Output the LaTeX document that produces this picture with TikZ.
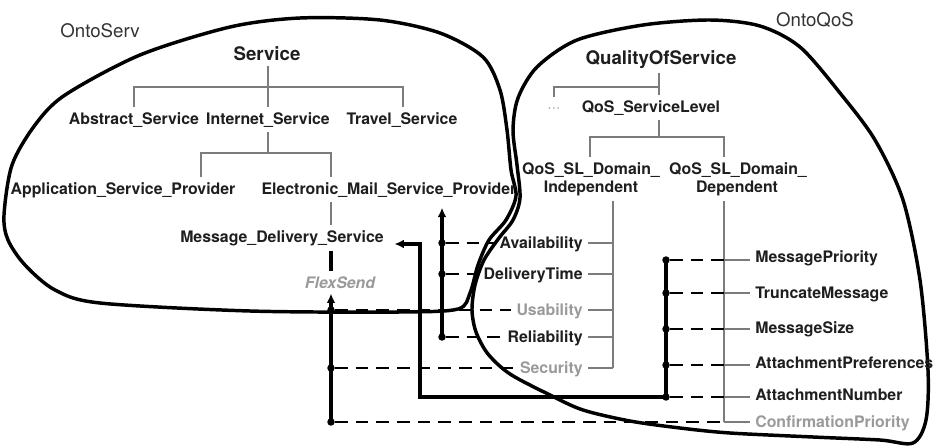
\documentclass[tikz,border=0pt]{standalone}
\usepackage{fontspec}
\setmainfont{TeX Gyre Heros}
\usetikzlibrary{arrows.meta}
\definecolor{ink}{HTML}{1E1E1E}
\definecolor{faded}{HTML}{9A9A9A}
\definecolor{branch}{HTML}{7C7C7C}
\definecolor{ontotext}{HTML}{333333}
\begin{document}
\begin{tikzpicture}[x=0.75pt,y=-0.75pt,
  lbl/.style={font=\fontsize{11.9}{14}\selectfont\bfseries, text=ink, inner sep=1pt, outer sep=3pt},
  glbl/.style={lbl, text=faded},
  ttl/.style={lbl, font=\fontsize{14}{16}\selectfont\bfseries},
  onto/.style={font=\fontsize{14}{16}\selectfont, text=ontotext, inner sep=1pt},
  tree/.style={draw=branch, line width=0.95pt},
  blob/.style={draw=black, line width=2.6pt, line join=round},
  link/.style={draw=black, line width=2.4pt},
  dlink/.style={draw=black, line width=1.8pt, dash pattern=on 9.5pt off 6pt, dash phase=-3pt},
  tip/.style={-{Latex[length=7pt,width=6.5pt]}},
]
\useasboundingbox (0,0) rectangle (935,447);

% ontology outlines
\draw[blob] plot[smooth cycle, tension=0.5] coordinates {
  (4,215) (12,165) (35,125) (65,95) (140,55) (230,27) (300,18) (380,20)
  (440,33) (483,57) (500,90) (507,130) (511,170) (516,196) (506,220)
  (489,240) (478,265) (470,293) (458,309) (400,312) (250,311) (100,303)
  (55,290) (25,265) (8,240)};
\draw[blob] plot[smooth cycle, tension=0.5] coordinates {
  (537,67) (577,40) (643,25) (710,20) (760,26) (800,47) (840,93) (875,140)
  (903,200) (920,280) (928,370) (926,420) (913,443) (880,440) (813,437)
  (730,433) (680,428) (630,421) (583,410) (550,395) (510,374) (488,354)
  (476,332) (472,310) (475,285) (484,260) (499,238) (513,220) (520,198)
  (517,165) (513,130) (518,98)};

% ontology names
\node[onto, anchor=base] (ontoserv) at (100,37) {OntoServ};
\node[onto, anchor=base] (ontoqos) at (815,26) {OntoQoS};

% service taxonomy
\node[ttl, anchor=base] (service) at (267,60) {Service};
\node[lbl, anchor=base] (abstract) at (134,124) {Abstract\_Service};
\node[lbl, anchor=base] (internet) at (268,124) {Internet\_Service};
\node[lbl, anchor=base] (travel) at (402,124) {Travel\_Service};
\node[lbl, anchor=base] (asp) at (123,194) {Application\_Service\_Provider};
\node[lbl, anchor=base] (emsp) at (389,194) {Electronic\_Mail\_Service\_Provider};
\node[lbl, anchor=base] (mds) at (282,242) {Message\_Delivery\_Service};
\node[glbl, anchor=base, font=\fontsize{11.9}{14}\selectfont\bfseries\itshape] (flex) at (340,288) {FlexSend};

% QoS taxonomy
\node[ttl, anchor=base] (qos) at (661,64) {QualityOfService};
\node[glbl, anchor=base, font=\fontsize{11.9}{14}\selectfont] (etc) at (554,112) {···};
\node[lbl, anchor=base] (qsl) at (651,112) {QoS\_ServiceLevel};
\node[lbl, anchor=base] (ind1) at (591,174) {QoS\_SL\_Domain\_};
\node[lbl, anchor=base] (ind2) at (591,192) {Independent};
\node[lbl, anchor=base] (dep1) at (738,174) {QoS\_SL\_Domain\_};
\node[lbl, anchor=base] (dep2) at (737,192) {Dependent};

% domain-independent parameters
\node[lbl, anchor=base east] (avail) at (588,248) {Availability};
\node[lbl, anchor=base east] (dtime) at (588,279) {DeliveryTime};
\node[glbl, anchor=base east] (usab) at (588,315) {Usability};
\node[lbl, anchor=base east] (reli) at (588,342) {Reliability};
\node[glbl, anchor=base east] (secu) at (588,373) {Security};

% domain-dependent parameters
\node[lbl, anchor=base west] (mprio) at (750,262) {MessagePriority};
\node[lbl, anchor=base west] (trunc) at (750,298) {TruncateMessage};
\node[lbl, anchor=base west] (msize) at (750,333) {MessageSize};
\node[lbl, anchor=base west] (apref) at (750,368) {AttachmentPreferences};
\node[lbl, anchor=base west] (anum) at (750,400) {AttachmentNumber};
\node[glbl, anchor=base west] (conf) at (750,427) {ConfirmationPriority};

% junction points
\coordinate (fU) at (331,310);
\coordinate (fS) at (331,368);
\coordinate (fC) at (331,422);
\coordinate (eA) at (442,243);
\coordinate (eD) at (442,274);
\coordinate (eR) at (442,337);
\coordinate (m1) at (666,260);
\coordinate (m2) at (666,293);
\coordinate (m3) at (666,329);
\coordinate (m4) at (666,365);
\coordinate (m5) at (666,397);
\coordinate (k1) at (420,397);
\coordinate (k2) at (420,244);
\coordinate (ibot) at (613,368);
\coordinate (dbot) at (724,422);
\coordinate (sbl) at (134,87);
\coordinate (sbr) at (403,87);
\coordinate (ibl) at (201,153);
\coordinate (ibr) at (331,153);
\coordinate (qbl) at (554,87);
\coordinate (qbr) at (659,87);
\coordinate (qdrop) at (554,97);
\coordinate (dbl) at (590,137);
\coordinate (dbr) at (724,137);

% taxonomy branches
\draw[tree] (internet.north |- service.south) -- (internet.north);
\draw[tree] (sbl |- abstract.north) -- (sbl) -- (sbr) -- (sbr |- travel.north);
\draw[tree] (internet.south) -- (internet.south |- ibl);
\draw[tree] (ibl |- asp.north) -- (ibl) -- (ibr) -- (ibr |- emsp.north);
\draw[tree] (ibr |- emsp.south) -- (ibr |- mds.north);
\draw[tree] (qbr |- qos.south) -- (qbr |- qsl.north);
\draw[tree] (qdrop) -- (qbl) -- (qbr);
\draw[tree] (qbr |- qsl.south) -- (qbr |- dbl);
\draw[tree] (dbl |- ind1.north) -- (dbl) -- (dbr) -- (dbr |- dep1.north);
\draw[tree] (ind2.south -| ibot) -- (ibot);
\draw[tree] (dep2.south -| dbot) -- (dbot);
\foreach \n/\c in {avail/eA, dtime/eD, usab/fU, reli/eR, secu/fS}
  \draw[tree] (\n.east |- \c) -- (ibot |- \c);
\foreach \c/\n in {m1/mprio, m2/trunc, m3/msize, m4/apref, m5/anum, fC/conf}
  \draw[tree] (dbot |- \c) -- (\n.west |- \c);

% dashed parameter links
\foreach \c/\n in {eA/avail, eD/dtime, eR/reli, fU/usab, fS/secu}
  \draw[dlink] (\c) -- (\c -| \n.west);
\foreach \c in {m1,m2,m3,m4,m5}
  \draw[dlink] (\c) -- (\c -| dbot);
\draw[dlink] (fC) -- (fC -| dbot);

% instance link and solid bundles
\draw[link, line width=2.6pt] (ibr |- mds.south) -- (ibr |- flex.north);
\draw[link, tip] (fC) -- (fC |- flex.south);
\draw[link, tip, shorten >=4pt] (eR) -- (eR |- emsp.south);
\draw[link, tip, shorten >=4pt] (m1) -- (m5) -- (k1) -- (k2) -- (k2 -| mds.east);

\foreach \c in {fU,fS,fC,eA,eD,eR,m1,m2,m3,m4,m5}
  \fill (\c) circle[radius=2.8pt];
\end{tikzpicture}
\end{document}
